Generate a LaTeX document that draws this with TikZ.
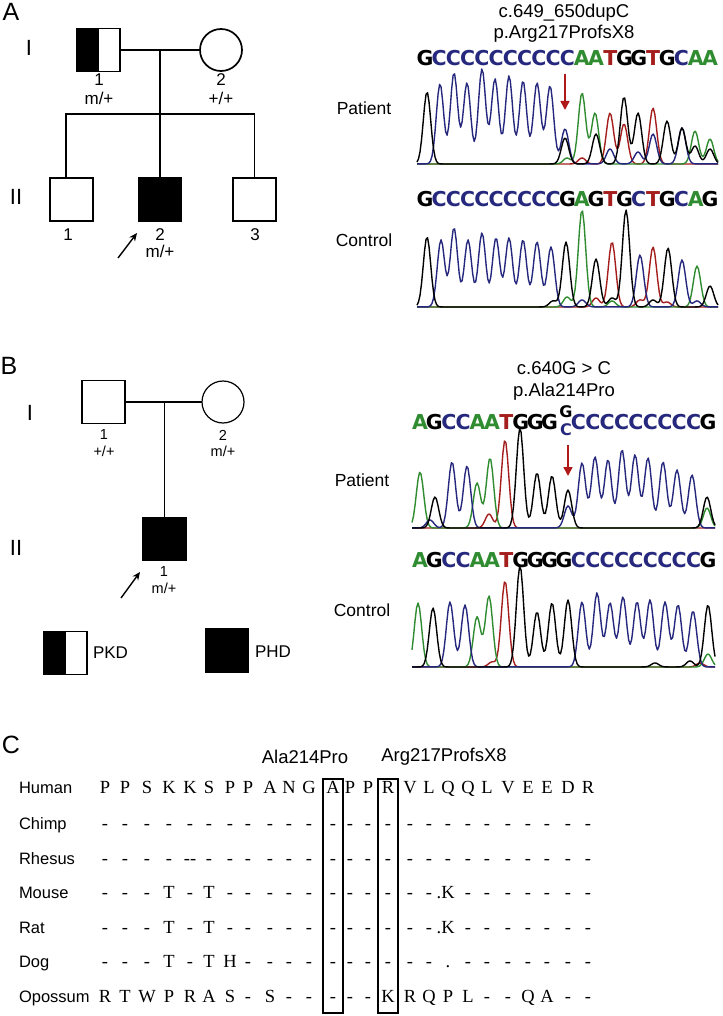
\documentclass[tikz,border=0pt]{standalone}
\usepackage{fontspec}
\setmainfont{Liberation Sans}
\newfontfamily\aafont{Liberation Serif}
\newfontfamily\basefont{DejaVu Sans}
\usetikzlibrary{arrows.meta}
\definecolor{baseG}{RGB}{0,0,0}
\definecolor{baseC}{RGB}{38,40,125}
\definecolor{baseA}{RGB}{48,140,48}
\definecolor{baseT}{RGB}{165,30,30}
\definecolor{mutred}{RGB}{175,25,25}
\newcommand\fs[1]{\fontsize{#1}{#1}\selectfont}
\newcommand\trexpr{}
\newcommand\chromtrace[5]{%
  \gdef\trexpr{0}%
  \foreach \px/\ph in {#5}{%
    \xdef\trexpr{\unexpanded\expandafter{\trexpr}+\ph*exp(-min(0.5*((\noexpand\x-\px)/3.7)^2,9))}%
  }%
  \draw[#1, trace] plot[domain=#3:#4, samples=201] (\x,{#2-(\trexpr)});%
}
% #1 name prefix, #2 y, #3 x0, #4 dx, #5 start index, #6 letters
\newcommand\seqrow[6]{%
  \foreach \b [count=\i from #5] in {#6}{%
    \node[baseletter, text=base\b] (#1\i) at ({#3+#4*\i},#2) {\b};%
  }%
}
\def\colarr{{105,125,147,169,190,209,230,248,270,289,309,333,350,368,388,410,429,448,468,487,508,528,547,568,588}}
% #1 name, #2 baseline y, #3 label, #4 residues
\newcommand\aarow[4]{%
  \node[splab, anchor=base west] (#1) at (19,#2) {#3};%
  \foreach \a [count=\i from 0] in {#4}{%
    \pgfmathsetmacro\cx{\colarr[\i]}%
    \node[aa, anchor=base] (#1r\i) at (\cx,#2) {\a};%
  }%
}
\begin{document}
\begin{tikzpicture}[x=1pt,y=-1pt,
  every node/.style={inner sep=0pt, outer sep=0pt},
  pedA/.style={line width=1.7pt},
  pedB/.style={line width=1.2pt},
  male/.style={draw, rectangle, minimum size=43pt},
  female/.style={draw, circle, minimum size=42pt},
  affected/.style={fill=black},
  carrier/.style={path picture={\fill[black] (path picture bounding box.south west) rectangle (path picture bounding box.north);}},
  glabA/.style={font=\fs{17}},
  glabB/.style={font=\fs{14.5}},
  gen/.style={font=\fs{22}},
  panel/.style={font=\fs{25}},
  hdr/.style={font=\fs{18.5}},
  sample/.style={font=\fs{17.5}},
  baseletter/.style={font=\basefont\bfseries\fs{20.5}},
  trace/.style={line width=1.4pt, line join=round},
  probarrow/.style={line width=1.4pt, -{Stealth[length=8pt,width=7pt]}},
  mutarrow/.style={mutred, line width=1.6pt, -{Triangle[length=9pt,width=9pt]}},
  splab/.style={font=\fs{16.5}},
  aa/.style={font=\aafont\fs{18.5}},
  boxcol/.style={draw, line width=1.3pt, minimum width=20pt, minimum height=234pt}
]
\useasboundingbox[fill=white] (0,0) rectangle (722,1016);

% ================= Panel A =================
\node[panel] (pA) at (11,12) {A};
\node[gen] (AI) at (29,48) {I};
\node[gen] (AII) at (16,197) {II};
\node[male, pedA, carrier] (A11) at (98.5,50) {};
\node[female, pedA] (A12) at (221,50) {};
\draw[pedA] (A11.east) -- (A12.west);
\coordinate (Amate) at (160,50);
\coordinate (Asib) at (160,114);
\draw[pedA] (Amate) -- (Asib);
\node[male, pedA] (A21) at (71.5,199.5) {};
\node[male, pedA, affected] (A22) at (160,199.5) {};
\node[male, pedA] (A23) at (254.5,199.5) {};
\coordinate (A21top) at (66,178);
\draw[pedA] (A21top) |- (Asib) -| (A23.north);
\draw[pedA] (Asib) -- (A22.north);
\node[glabA] (A11n) at (99,80) {1};
\node[glabA] (A11g) at (99,98) {m/+};
\node[glabA] (A12n) at (221,80) {2};
\node[glabA] (A12g) at (221,98) {+/+};
\node[glabA] (A21n) at (68,235) {1};
\node[glabA] (A22n) at (160,235) {2};
\node[glabA] (A22g) at (160,251) {m/+};
\node[glabA] (A23n) at (255,235) {3};
\coordinate (Apr0) at (118,258);
\coordinate (Apr1) at (137,233);
\draw[probarrow] (Apr0) -- (Apr1);

\node[hdr] (Ah1) at (564,13) {c.649\_650dupC};
\node[hdr] (Ah2) at (564,34) {p.Arg217ProfsX8};
\seqrow{Ap}{58}{425}{14.25}{0}{G,C,C,C,C,C,C,C,C,C,C,A,A,T,G,G,T,G,C,A,A}
\node[sample] (ApL) at (364,108) {Patient};
\chromtrace{baseT}{164}{417}{718}{610/51,624/40,653/56,582/6}
\chromtrace{baseA}{164}{417}{718}{582/71,595/51,695/33,710/25,567/6}
\chromtrace{baseC}{164}{417}{718}{440/80,454/91,467/81,482/95,495/85,509/88,523/83,537/81,550/78,565/35,610/15,638/12,653/30,682/36}
\chromtrace{baseG}{164}{417}{718}{427/72,565/26,596/30,624/67,638/51,667/43,682/36,695/18,710/15}
\coordinate (Am0) at (565,74);
\coordinate (Am1) at (565,110);
\draw[mutarrow] (Am0) -- (Am1);

\seqrow{Ac}{199}{425}{14.25}{0}{G,C,C,C,C,C,C,C,C,C,G,A,G,T,G,C,T,G,C,A,G}
\node[sample] (AcL) at (364,240) {Control};
\chromtrace{baseT}{307}{417}{718}{612/65,653/60,596/9,640/7,667/5}
\chromtrace{baseA}{307}{417}{718}{582/97,697/41,567/10,612/6}
\chromtrace{baseC}{307}{417}{718}{441/67,454/79,468/67,482/74,496/69,509/69,523/67,537/65,551/60,640/52,682/47,582/7,697/6}
\chromtrace{baseG}{307}{417}{718}{427/70,566/65,596/48,626/97,668/59,710/21,553/6,612/9,653/7}

% ================= Panel B =================
\node[panel] (pB) at (9,366) {B};
\node[gen] (BI) at (30,413) {I};
\node[gen] (BII) at (16,548) {II};
\node[male, pedB] (B11) at (103.5,402) {};
\node[female, pedB] (B12) at (223,402) {};
\draw[pedB] (B11.east) -- (B12.west);
\coordinate (Bmate) at (164.5,402);
\node[male, pedB, affected] (B21) at (164.5,539) {};
\draw[pedB] (Bmate) -- (B21.north);
\node[glabB] (B11n) at (104,435) {1};
\node[glabB] (B11g) at (104,451) {+/+};
\node[glabB] (B12n) at (223,435) {2};
\node[glabB] (B12g) at (223,451) {m/+};
\node[glabB] (B21n) at (164,572) {1};
\node[glabB] (B21g) at (164,588) {m/+};
\coordinate (Bpr0) at (121,598);
\coordinate (Bpr1) at (140,572);
\draw[probarrow] (Bpr0) -- (Bpr1);
\node[male, pedB, carrier] (LPKD) at (65.5,653) {};
\node[font=\fs{17}, anchor=west] (LPKDt) at (93,653) {PKD};
\node[male, pedB, affected] (LPHD) at (227,650.5) {};
\node[font=\fs{17}, anchor=west] (LPHDt) at (255,652) {PHD};

\node[hdr] (Bh1) at (564,368) {c.640G > C};
\node[hdr] (Bh2) at (564,392) {p.Ala214Pro};
\seqrow{Bp}{422}{420}{14.4}{0}{A,G,C,C,A,A,T,G,G,G}
\seqrow{Bp}{422}{420}{14.4}{11}{C,C,C,C,C,C,C,C,C,G}
\node[baseletter, font=\basefont\bfseries\fs{16}, text=baseG] (BpG) at (566,412) {G};
\node[baseletter, font=\basefont\bfseries\fs{16}, text=baseC] (BpC) at (566,430) {C};
\node[sample] (BpL) at (362,480) {Patient};
\chromtrace{baseT}{528}{412}{715}{505/88,489/14}
\chromtrace{baseA}{528}{412}{715}{420/56,477/45,490/70,707/20}
\chromtrace{baseC}{528}{412}{715}{452/66,467/62,568/22,582/65,595/71,608/68,622/78,635/73,648/70,663/66,677/58,692/53,430/8}
\chromtrace{baseG}{528}{412}{715}{435/31,520/100,537/55,552/52,568/38,707/31}
\coordinate (Bm0) at (568,445);
\coordinate (Bm1) at (568,476);
\draw[mutarrow] (Bm0) -- (Bm1);

\seqrow{Bc}{560}{420}{14.4}{0}{A,G,C,C,A,A,T,G,G,G,G,C,C,C,C,C,C,C,C,C,G}
\node[sample] (BcL) at (362,610) {Control};
\chromtrace{baseT}{667}{412}{715}{505/86,492/5,700/4}
\chromtrace{baseA}{667}{412}{715}{418/64,477/50,489/71,708/13}
\chromtrace{baseC}{667}{412}{715}{450/65,465/62,582/65,597/74,610/64,623/70,637/65,650/67,665/65,678/62,693/56}
\chromtrace{baseG}{667}{412}{715}{433/59,520/101,537/55,552/64,568/67,708/62,690/6,655/4}

% ================= Panel C =================
\node[panel] (pC) at (11,745) {C};
\node[hdr] (lAla) at (305,757) {Ala214Pro};
\node[hdr] (lArg) at (444,757) {Arg217ProfsX8};
\aarow{hum}{793}{Human}{P,P,S,K,K,S,P,P,A,N,G,A,P,P,R,V,L,Q,Q,L,V,E,E,D,R}
\aarow{chi}{829}{Chimp}{-,-,-,-,-,-,-,-,-,-,-,-,-,-,-,-,-,-,-,-,-,-,-,-,-}
\aarow{rhe}{864}{Rhesus}{-,-,-,-,--,-,-,-,-,-,-,-,-,-,-,-,-,-,-,-,-,-,-,-,-}
\aarow{mou}{898}{Mouse}{-,-,-,T,-,T,-,-,-,-,-,-,-,-,-,-,-,\llap{.}K,-,-,-,-,-,-,-}
\aarow{rat}{933}{Rat}{-,-,-,T,-,T,-,-,-,-,-,-,-,-,-,-,-,\llap{.}K,-,-,-,-,-,-,-}
\aarow{dog}{967}{Dog}{-,-,-,T,-,T,H,-,-,-,-,-,-,-,-,-,-,.,-,-,-,-,-,-,-}
\aarow{opo}{1002}{Opossum}{R,T,W,P,R,A,S,-,S,-,-,-,-,-,K,R,Q,P,L,-,-,Q,A,-,-}
\node[boxcol] (boxA) at (333,896) {};
\node[boxcol] (boxR) at (388,896) {};
\end{tikzpicture}
\end{document}
